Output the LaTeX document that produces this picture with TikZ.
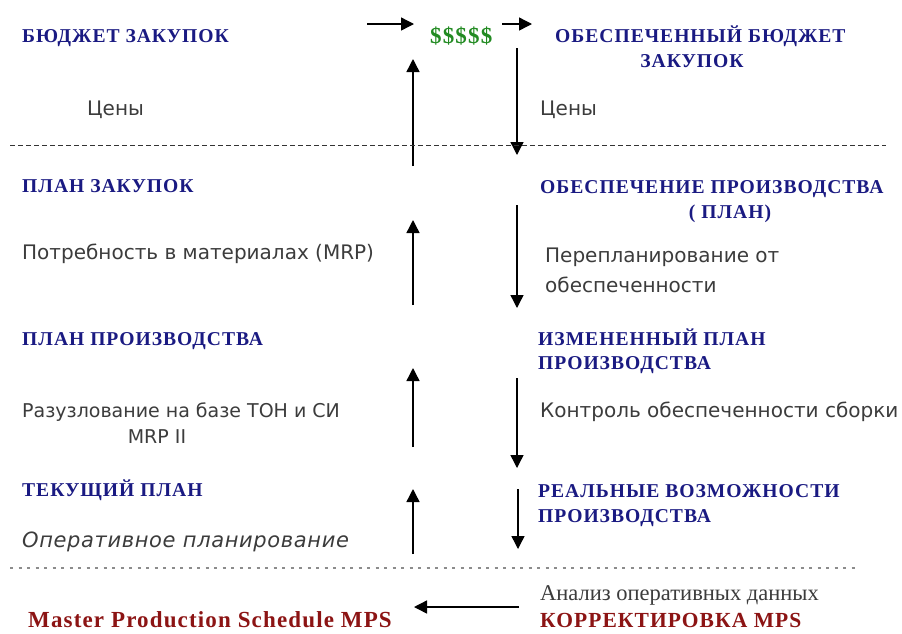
\documentclass[tikz,border=0pt]{standalone}
\usepackage{fontspec}
\setmainfont{Liberation Serif}
\newfontfamily\ttlfont[LetterSpace=5]{Liberation Serif}
\newfontfamily\gryfont{DejaVu Sans}
\newfontfamily\gryitfont[LetterSpace=3]{DejaVu Sans}
\usetikzlibrary{arrows.meta}
\definecolor{navyc}{RGB}{26,26,130}
\definecolor{greenc}{RGB}{34,139,34}
\definecolor{redc}{RGB}{140,20,20}
\definecolor{grayc}{RGB}{60,60,60}
\tikzset{
  ttl/.style={anchor=base west, inner sep=0pt, text=navyc, font=\ttlfont\bfseries\fontsize{19.6}{22}\selectfont},
  ttlc/.style={ttl, anchor=base},
  gry/.style={anchor=base west, inner sep=0pt, text=grayc, font=\gryfont\fontsize{20}{24}\selectfont},
  gryc/.style={gry, anchor=base},
  redt/.style={anchor=base west, inner sep=0pt, text=redc, font=\ttlfont\bfseries\fontsize{23}{26}\selectfont},
  arr/.style={line width=1.4pt, -{Triangle[length=13pt,width=13pt]}},
  sep/.style={line width=1pt, dash pattern=on 5pt off 3pt, black!80},
  dots/.style={line width=1.3pt, dash pattern=on 3pt off 5.5pt, black!45}
}
\begin{document}
\begin{tikzpicture}[x=1pt,y=-1pt]
\useasboundingbox[fill=white] (0,0) rectangle (902,633);
% top row
\node[ttl] (bz) at (22,42) {БЮДЖЕТ ЗАКУПОК};
\node[anchor=base west, inner sep=0pt, text=greenc, font=\ttlfont\bfseries\fontsize{23}{26}\selectfont] (dol) at (430,43) {\$\$\$\$\$};
\node[ttl] (obz1) at (555,42) {ОБЕСПЕЧЕННЫЙ БЮДЖЕТ};
\node[ttlc] (obz2) at (692,67) {ЗАКУПОК};
\coordinate (t1s) at (367,24); \coordinate (t1e) at (414,24);
\coordinate (t2s) at (502,24); \coordinate (t2e) at (532,24);
\draw[arr] (t1s) -- (t1e);
\draw[arr] (t2s) -- (t2e);
\node[gry] (c1) at (87,115) {Цены};
\node[gry] (c2) at (540,115) {Цены};
\coordinate (u1s) at (413,166); \coordinate (u1e) at (413,59);
\coordinate (d1s) at (517,48); \coordinate (d1e) at (517,155);
\draw[arr] (u1s) -- (u1e);
\draw[arr] (d1s) -- (d1e);
% separator
\coordinate (s1a) at (10,145); \coordinate (s1b) at (886,145);
\draw[sep] (s1a) -- (s1b);
% row 2
\node[ttl] (pz) at (22,192) {ПЛАН ЗАКУПОК};
\node[gry] (mrp) at (22,259) {Потребность в материалах (MRP)};
\node[ttl] (op1) at (540,193) {ОБЕСПЕЧЕНИЕ ПРОИЗВОДСТВА};
\node[ttlc] (op2) at (730,218) {( ПЛАН)};
\node[gry] (pp1) at (545,262) {Перепланирование от};
\node[gry] (pp2) at (545,292) {обеспеченности};
\coordinate (u2s) at (413,305); \coordinate (u2e) at (413,220);
\coordinate (d2s) at (517,205); \coordinate (d2e) at (517,308);
\draw[arr] (u2s) -- (u2e);
\draw[arr] (d2s) -- (d2e);
% row 3
\node[ttl] (pp) at (22,345) {ПЛАН ПРОИЗВОДСТВА};
\node[gry, font=\gryfont\fontsize{19}{23}\selectfont] (raz) at (22,417) {Разузлование на базе ТОН и СИ};
\node[gryc, font=\gryfont\fontsize{19}{23}\selectfont] (mrp2) at (157,443) {MRP II};
\node[ttl] (ip1) at (538,345) {ИЗМЕНЕННЫЙ ПЛАН};
\node[ttl] (ip2) at (538,369) {ПРОИЗВОДСТВА};
\node[gry] (ko) at (540,417) {Контроль обеспеченности сборки};
\coordinate (u3s) at (413,447); \coordinate (u3e) at (413,368);
\coordinate (d3s) at (517,378); \coordinate (d3e) at (517,468);
\draw[arr] (u3s) -- (u3e);
\draw[arr] (d3s) -- (d3e);
% row 4
\node[ttl] (tp) at (22,496) {ТЕКУЩИЙ ПЛАН};
\node[gry, font=\gryitfont\itshape\fontsize{21}{24}\selectfont] (opp) at (22,547) {Оперативное планирование};
\node[ttl] (rv1) at (538,497) {РЕАЛЬНЫЕ ВОЗМОЖНОСТИ};
\node[ttl] (rv2) at (538,522) {ПРОИЗВОДСТВА};
\coordinate (u4s) at (413,554); \coordinate (u4e) at (413,489);
\coordinate (d4s) at (518,489); \coordinate (d4e) at (518,549);
\draw[arr] (u4s) -- (u4e);
\draw[arr] (d4s) -- (d4e);
% dotted separator
\coordinate (s2a) at (10,568); \coordinate (s2b) at (858,568);
\draw[dots] (s2a) -- (s2b);
% bottom
\node[anchor=base west, inner sep=0pt, text=grayc, font=\fontsize{22.5}{26}\selectfont] (an) at (540,600) {Анализ оперативных данных};
\node[redt] (mps) at (28,627) {Master Production Schedule MPS};
\node[redt, font=\ttlfont\bfseries\fontsize{21.5}{26}\selectfont] (kmps) at (540,627) {КОРРЕКТИРОВКА MPS};
\coordinate (ls) at (519,607); \coordinate (le) at (414,607);
\draw[arr] (ls) -- (le);
\end{tikzpicture}
\end{document}
